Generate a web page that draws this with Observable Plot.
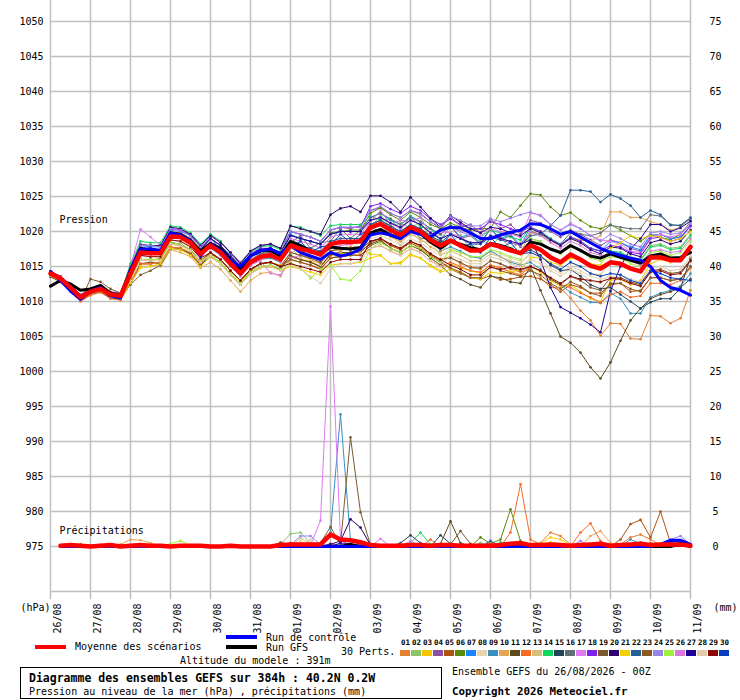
<!DOCTYPE html>
<html><head><meta charset="utf-8">
<script src="https://cdn.jsdelivr.net/npm/d3@7"></script>
<script src="https://cdn.jsdelivr.net/npm/@observablehq/plot@0.6"></script>
<style>
body{margin:0;background:#fff;font-family:"DejaVu Sans Mono",monospace;color:#000}
#wrap{position:relative;width:740px;height:700px;overflow:hidden;background:#fff}
#legend{position:absolute;left:0;top:632px;width:740px;height:68px;font-size:10px}
.a{position:absolute;white-space:nowrap;line-height:10px}
.sw{position:absolute}
</style></head><body>
<div id="wrap"><div id="chart"></div><div id="legend"></div></div>
<script>
// ---- data ----
const dayLabels = ["26/08","27/08","28/08","29/08","30/08","31/08","01/09","02/09","03/09","04/09","05/09","06/09","07/09","08/09","09/09","10/09","11/09"];
const pressTicks = [975,980,985,990,995,1000,1005,1010,1015,1020,1025,1030,1035,1040,1045,1050];
const pertColors = ["#e67e30","#8cc46c","#f2c500","#8a4fa3","#b0520e","#5a8a0a","#1a85ff","#e8d5b0","#3a8fc0","#e4a552","#5c4a1c","#f76a22","#d4c07a","#0fd660","#24435a","#606e78","#e07af5","#8020f0","#7d5a2e","#2d0070","#f0d000","#245f99","#8b5a22","#9a84e8","#a0f040","#d878d8","#1f0098","#e0cca8","#8a0606","#0a3cc0"];

const meanP = [1014.0,1013.3,1012.0,1010.6,1011.4,1011.8,1011.0,1010.8,
1014.0,1017.0,1016.9,1016.9,1019.3,1019.2,1018.4,1016.8,
1018.0,1017.0,1015.4,1014.0,1015.6,1016.4,1016.6,1016.0,
1018.0,1017.5,1017.2,1016.7,1018.2,1018.5,1018.5,1018.6,
1020.6,1021.1,1020.2,1019.5,1020.6,1020.0,1018.8,1018.0,
1018.7,1018.0,1017.3,1017.3,1018.2,1017.8,1017.3,1016.9,
1018.0,1017.4,1016.3,1015.6,1016.7,1016.0,1015.1,1014.7,
1015.6,1015.4,1014.7,1014.3,1016.3,1016.3,1015.9,1015.9,1017.8];
const controlP = [1014.3,1013.0,1011.5,1010.3,1011.5,1012.0,1010.8,1010.5,
1014.5,1017.5,1017.5,1017.3,1019.8,1019.5,1018.6,1016.5,
1018.2,1017.3,1015.8,1015.0,1016.5,1017.3,1017.5,1016.8,
1018.0,1017.0,1016.5,1016.0,1017.0,1016.5,1016.8,1017.5,
1019.5,1019.8,1019.5,1019.0,1020.0,1019.6,1019.2,1020.2,
1020.6,1020.5,1019.8,1019.0,1019.0,1019.5,1019.9,1020.2,
1021.1,1021.0,1020.4,1019.6,1020.0,1019.2,1018.4,1017.6,
1017.0,1016.6,1016.2,1015.9,1015.0,1013.0,1012.0,1011.6,1010.9];
const gfsP = [1012.2,1013.0,1012.5,1011.6,1011.8,1012.3,1011.2,1010.9,
1014.5,1017.6,1017.3,1017.0,1019.8,1019.6,1018.7,1017.2,
1018.3,1017.6,1016.0,1014.6,1016.5,1017.2,1017.3,1016.5,
1018.6,1018.0,1017.2,1016.9,1017.8,1017.6,1017.5,1017.7,
1019.8,1020.3,1019.5,1019.0,1020.3,1019.7,1018.5,1017.6,
1018.6,1018.2,1017.7,1017.4,1018.3,1018.0,1017.5,1016.9,
1018.5,1018.2,1017.5,1017.0,1018.0,1017.3,1016.5,1016.2,
1016.8,1016.3,1015.9,1015.5,1016.5,1016.8,1016.2,1016.3,1017.0];

const P01 = [1013.8,1013.2,1011.6,1010.2,1011.2,1011.6,1010.6,1010.4, 1013,1016,1015.8,1016.2,1018.2,1018,1017.4,1015.6, 1016.6,1015.6,1014,1012.4,1014.2,1015,1015.2,1014.6, 1017,1016.6,1016,1015.4,1017.2,1017.4,1017.8,1017.4, 1018.6,1019,1018,1017.4,1018.6,1017.8,1016.8,1016, 1016.4,1015.4,1015,1014.6,1015.8,1015.4,1014.6,1014.2, 1014.6,1013.4,1012,1011.9,1010.5,1008.7,1007.3,1005.1, 1006.9,1006.8,1004.7,1004.6,1008,1007.9,1006.9,1007.6,1011.6];
const P02 = [1014.2,1013.6,1012.2,1010.8,1011.7,1012.1,1011.3,1011.1, 1014.6,1017.6,1017.4,1017.3,1019.9,1019.6,1018.8,1017.2, 1018.4,1017.2,1015.8,1014.4,1015.9,1016.7,1016.9,1016.3, 1018.1,1017.4,1017.2,1016.6,1018.1,1018.4,1018.6,1018.8, 1020.4,1022.4,1020.6,1021.2,1020.5,1021.4,1019,1019.6, 1018.4,1019.5,1017.4,1018.8,1018,1019.2,1017.6,1018.4, 1019,1018.6,1017.4,1016.9,1018,1017.2,1016.4,1016.2, 1017.2,1017,1016.4,1016,1018,1018.2,1017.6,1017.8,1019.6];
const P03 = [1014,1013.4,1012,1010.4,1011.2,1011.6,1010.8,1010.2, 1012.6,1015.2,1015.4,1015.6,1017.8,1017.6,1017,1015.4, 1016.8,1016,1014.4,1012.8,1014.4,1015.4,1015.6,1015.2, 1016.4,1016,1015.8,1015,1016.6,1016.8,1017,1017.4, 1016.8,1016.6,1015.4,1015.6,1016.8,1016.2,1015.2,1014.4, 1015.4,1014.8,1014.4,1014,1015.2,1014.8,1014.2,1013.8, 1015,1014.2,1013,1012.2,1012.4,1011.4,1010.4,1010, 1013,1013.2,1012.4,1013,1015.4,1016,1015.6,1016.2,1017.6];
const P04 = [1014.3,1013.6,1012.4,1011,1011.8,1012.2,1011.4,1011.2, 1015,1018.2,1018,1018,1020.4,1020.2,1019.6,1018, 1019.5,1018.6,1017,1015.6,1017.2,1018,1018.2,1017.6, 1020,1019.6,1019.2,1018.6,1020.2,1020.6,1020.4,1020.8, 1023,1023.4,1022.6,1022,1023,1022.6,1021.4,1020.4, 1022.2,1020.6,1021,1019.8,1021.8,1020.4,1021,1019.6, 1021.6,1021.2,1020,1019.2,1020.2,1019.6,1018.8,1018, 1018.8,1018.4,1017.6,1017.2,1019.4,1019.6,1019,1019.2,1020.8];
const P05 = [1013.7,1013,1011.6,1010.2,1011,1011.4,1010.6,1010.4, 1013.2,1016,1016,1016,1018.4,1018.2,1017.4,1015.8, 1017,1016,1014.4,1013,1014.4,1015.4,1015.6,1015, 1016.4,1016,1015.6,1015,1016.6,1017,1017,1017, 1018.4,1019,1018,1017.4,1018.4,1017.6,1016.6,1015.8, 1014.6,1014,1013.4,1013.2,1013.7,1013.1,1013.2,1013.5, 1013.6,1013.2,1012.4,1011.4,1012.4,1012,1011.2,1011.2, 1012.4,1012.6,1011.4,1011.6,1013.4,1013.4,1013,1013.2,1015];
const P06 = [1014.1,1013.4,1012.1,1010.7,1011.5,1011.9,1011.1,1010.9, 1014.5,1017.6,1017.5,1017.4,1020,1019.8,1019,1017.5, 1019,1018,1016.5,1015,1016.6,1017.4,1017.6,1017, 1019.5,1019,1018.6,1018.2,1019.8,1020,1020.2,1020.2, 1022.6,1023.4,1022.4,1021.6,1022.8,1022,1021,1020.4, 1021.2,1020.6,1020.2,1020.4,1020.4,1022.8,1022,1023.7, 1025.4,1025.2,1023.5,1022.3,1022.7,1021.6,1020.7,1020.4, 1021,1020.2,1019.4,1018.6,1019.6,1019.2,1018.8,1019.6,1021.4];
const P07 = [1014.2,1013.5,1012.2,1010.8,1011.6,1012,1011.2,1011, 1015,1018,1017.8,1017.8,1020.2,1020,1019.4,1017.8, 1019.2,1017.2,1016.6,1014.2,1016.8,1016.6,1017.8,1016.2, 1019.6,1019,1018.6,1018.2,1019.6,1020,1020,1020, 1022,1022.6,1021.6,1021,1022.2,1021.4,1020.4,1019.6, 1020.8,1019.2,1019.6,1018.4,1020.4,1019,1019.6,1018, 1020.6,1020,1019,1018.2,1019.2,1018.6,1017.6,1017.2, 1018.6,1018.4,1017.8,1017.4,1019.4,1019.6,1019,1019.2,1020.8];
const P08 = [1013.8,1013.1,1011.8,1010.4,1011.2,1011.6,1010.8,1010.6, 1013.6,1016.4,1016.4,1016.4,1018.8,1018.6,1017.8,1016.2, 1017,1016,1014.4,1013,1014.6,1015.4,1015.6,1015, 1017,1017.6,1016,1016.8,1017,1018.6,1017.4,1018.6, 1019,1019.4,1018.8,1018,1019,1018.4,1017.4,1016.6, 1017.6,1017,1016.4,1016.2,1017.2,1016.8,1016.2,1015.8, 1016.6,1016,1014.8,1014,1015,1014.4,1013.6,1013.2, 1013.6,1013.4,1012.6,1012.2,1014.4,1014.6,1014,1014.2,1015.8];
const P09 = [1014,1013.3,1012,1010.6,1011.4,1011.8,1011,1010.8, 1014.4,1017.4,1017.4,1017.4,1019.8,1019.6,1018.8,1017.2, 1017.6,1016.6,1015,1013.6,1015.2,1016,1016.2,1015.6, 1018,1017.6,1017.2,1016.6,1018.2,1018.4,1018.6,1018.6, 1020.6,1020,1020.4,1018.6,1020.6,1019,1019,1017.2, 1017.8,1017.2,1016.4,1016.2,1017.2,1016.4,1015.6,1015.2, 1015.6,1014.6,1013.2,1012.4,1011.3,1010.6,1009.9,1009.8, 1011.2,1010.4,1008.3,1008.3,1010.6,1011.2,1011.6,1012.2,1014];
const P10 = [1013.8,1013.1,1011.7,1010.3,1011.2,1011.5,1010.7,1010.5, 1012.6,1015.4,1015.2,1015,1017.4,1017,1016.4,1014.8, 1015.6,1014.6,1013,1011.4,1013,1014,1014.2,1013.6, 1016,1015.6,1015.2,1014.8,1016.2,1016.6,1016.6,1016.8, 1019.6,1020,1019.2,1018.6,1019.6,1019,1017.8,1017, 1018.6,1018,1017.4,1017.2,1018.2,1018,1017.4,1017, 1019.8,1019.4,1018.6,1018,1019.2,1018.8,1018.6,1019.4, 1022.8,1022.8,1022,1022,1021.4,1021,1020.2,1020.6,1022];
const P11 = [1013.7,1013,1011.6,1010.1,1011,1011.4,1010.5,1010.3, 1012.5,1015.4,1015.6,1015.4,1017.6,1017.6,1016.8,1015.2, 1016.4,1015.4,1013.8,1012.4,1014,1014.8,1015,1014.6, 1016.6,1016,1015.6,1015,1016.8,1017,1017,1017.2, 1018.2,1018.8,1017.6,1017,1018,1017.4,1016.2,1015.2, 1013.8,1013.2,1012.4,1012,1013.6,1013.4,1012.8,1012.6, 1015,1011.6,1008.3,1005,1004.1,1002.7,1000.6,999, 1001.3,1004.4,1007.3,1009,1010.4,1011,1011.4,1012,1013.2];
const P12 = [1013.6,1012.9,1011.4,1010,1010.9,1011.3,1010.4,1010.2, 1012.6,1015.4,1015.4,1015.6,1017.8,1017.6,1017,1015.4, 1017,1016,1014.4,1013,1014.6,1015.4,1015.6,1015, 1016,1015.6,1015.2,1014.6,1016.2,1016.4,1016.6,1016.6, 1017.6,1018,1017.2,1016.6,1017.6,1017,1015.8,1015, 1015.6,1015,1014.4,1014.2,1015.2,1014.8,1014.2,1013.8, 1015,1014.4,1013.2,1012.4,1012,1011.2,1010.6,1009.8, 1011,1011.4,1010.6,1010.8,1012.6,1012.6,1012.4,1013,1014.8];
const P13 = [1014,1013.3,1012,1010.6,1011.4,1011.8,1011,1010.8, 1013.8,1016.6,1016.4,1016.4,1018.8,1018.6,1018,1016.4, 1018,1017,1015.4,1014,1015.6,1016.4,1016.6,1016, 1017.8,1016.2,1017,1015.2,1018,1017,1018.4,1017, 1020.4,1019.6,1019.8,1018,1020.2,1018.6,1018.4,1016.6, 1017.2,1016.6,1015.8,1015.8,1016.8,1016.4,1015.8,1015.4, 1017,1016.4,1015.4,1014.6,1015.6,1015,1014,1013.8, 1015.6,1015.4,1014.8,1014.4,1016.4,1016.4,1016,1016,1017.8];
const P14 = [1014.2,1013.6,1012.2,1010.8,1011.6,1012,1011.2,1011, 1015.4,1018.6,1018.4,1018.4,1020.8,1020.6,1019.8,1018.2, 1019.6,1018.6,1016.8,1015.4,1017,1017.8,1018,1017.4, 1020.8,1020.6,1020,1019.4,1020.8,1021,1021,1021, 1022.2,1021.6,1021.8,1020.2,1022.2,1020.6,1020.4,1018.6, 1020.8,1020,1019.4,1019.2,1020.2,1019.8,1019.2,1018.8, 1020.6,1020,1019,1018,1019.2,1018.6,1017.6,1017.2, 1017.2,1017,1016.2,1015.8,1017.8,1018,1017.4,1017.6,1019.4];
const P15 = [1014,1013.4,1012.1,1010.6,1011.5,1011.9,1011.1,1010.9, 1014.4,1017.6,1017.6,1017.4,1019.8,1019.6,1018.8,1017.4, 1019,1018,1016.4,1015,1016.6,1017.4,1017.6,1017, 1018,1017.6,1017.2,1016.6,1018.2,1018.6,1018.6,1018.6, 1021,1021.6,1020.8,1020,1021,1020.4,1019.4,1018.6, 1018.6,1018,1017.2,1017.2,1018.2,1017.8,1017.4,1016.8, 1017.4,1016.6,1015.2,1014.4,1014.6,1013.6,1012.4,1011.8, 1012,1011,1010,1009,1009.9,1010.4,1010.4,1011.9,1016.3];
const P16 = [1014,1013.3,1012,1010.6,1011.4,1011.8,1011,1010.8, 1014.4,1017.4,1017.4,1017.2,1019.8,1019.6,1018.8,1017.2, 1018.4,1017.4,1016,1014.4,1016,1016.8,1017,1016.4, 1018.4,1019.4,1017.6,1018.4,1018.6,1020.4,1019,1020.2, 1022,1022.6,1021.8,1021,1022,1021.4,1020.4,1019.6, 1020.8,1019,1019.4,1018.2,1020.4,1018.8,1019.4,1017.8, 1020,1019.6,1018.8,1018.2,1019.8,1019.6,1019.4,1019.8, 1020.9,1020.6,1020.4,1020.4,1022.4,1022.2,1021,1020.8,1021.8];
const P17 = [1014.2,1013.5,1012.2,1010.8,1011.6,1012,1011.2,1011, 1015,1020.3,1019.2,1018,1020.4,1019.8,1019,1018, 1018.2,1017,1015.2,1014.2,1015.2,1015.8,1014,1013.8, 1016.2,1016.6,1016.4,1016,1017.6,1018,1018.2,1018.4, 1021.6,1022,1021.2,1020.4,1021.6,1021,1019.8,1019, 1020.6,1020,1019.4,1019.4,1020.4,1020,1019.6,1019.2, 1022.6,1022.4,1021,1020.2,1021.2,1020.4,1019.4,1018.8, 1018.6,1018.2,1017.2,1017,1019.2,1019.6,1019.2,1019.6,1021];
const P18 = [1014.3,1013.6,1012.3,1010.9,1011.7,1012.1,1011.3,1011.1, 1014.8,1018,1018,1018,1020.4,1020.2,1019.4,1017.8, 1019,1018,1016.6,1015.2,1016.8,1017.6,1017.6,1017, 1020,1019.6,1019.2,1018.6,1020.2,1020.6,1020.6,1020.6, 1023.6,1024,1023.2,1022.6,1023.6,1023,1021.8,1021, 1021.8,1021,1020.4,1020.4,1021.4,1021,1020.4,1020, 1020.6,1020,1018.8,1018,1019.2,1018.6,1017.6,1017.2, 1018,1017.8,1017,1016.8,1019,1019.2,1018.6,1019,1020.8];
const P19 = [1013.5,1012.8,1011.5,1010.2,1013.2,1012.8,1011.8,1011.2, 1012.4,1013.8,1014.4,1015.2,1017.6,1017.4,1016.8,1015.2, 1016.8,1016,1014.4,1013,1014.6,1015.4,1015.6,1015, 1017,1016.6,1016.2,1015.6,1017.2,1017.6,1017.4,1017.6, 1018.6,1019,1018.2,1017.6,1018.6,1018,1016.8,1016, 1016.2,1015.6,1014.8,1014.8,1015.8,1015.4,1014.8,1014.4, 1015,1014.4,1013.2,1012.4,1013.6,1013,1012,1011.6, 1013.4,1013.4,1012.8,1012.4,1014.4,1014.6,1014,1014.2,1016];
const P20 = [1014,1013.4,1012.1,1010.8,1011.6,1012,1011.2,1011, 1015,1018,1018,1018,1020.6,1020.4,1019.6,1018, 1019.4,1018.4,1017,1015.4,1017.2,1018,1018.2,1017.6, 1020.8,1020.4,1020,1019.6,1022.4,1023.3,1023.6,1022.8, 1025.1,1025.1,1024.2,1022.8,1024.9,1023.5,1021.9,1020.6, 1022.3,1021.3,1020.4,1019.8,1020.6,1020.4,1019.8,1019.4, 1020.4,1019.8,1018.8,1018,1019,1018.4,1017.4,1016.8, 1017.8,1017.6,1016.8,1016.4,1018.4,1018.8,1018.2,1018.6,1020.2];
const P21 = [1013.7,1013,1011.6,1010.2,1011.1,1011.5,1010.7,1010.4, 1012.6,1014.8,1015,1015.4,1017.6,1017.4,1016.6,1015, 1016.4,1015.4,1013.8,1012.4,1014,1014.8,1015,1014.4, 1015,1014.6,1014.2,1013.8,1015.2,1015.4,1015.4,1015.6, 1016.2,1016.6,1015.4,1015.4,1016.6,1016.2,1015,1014.2, 1014.6,1014.2,1013.4,1013.2,1014.2,1014,1014.2,1014.6, 1016.2,1016.4,1015.6,1015.2,1016.2,1016,1015.4,1015.2, 1017.6,1018.4,1019.4,1019,1019.4,1019.2,1018.6,1019,1020];
const P22 = [1014,1013.3,1012,1010.7,1011.5,1011.8,1011,1010.8, 1014.2,1017.2,1017.2,1017.2,1019.6,1019.4,1018.6,1017, 1018,1017,1015.4,1014,1015.6,1016.4,1016.6,1016, 1018.4,1018,1017.6,1017.2,1018.6,1019,1019,1019, 1021,1021.6,1020.6,1020,1021,1020.4,1019.2,1018.4, 1019.6,1019,1018.2,1018.2,1019.2,1018.8,1018.4,1018, 1019.4,1019.6,1020.8,1022.3,1025.9,1025.9,1025.7,1024.2, 1025.3,1024.7,1023.7,1022,1023,1022.4,1020.9,1020.9,1022];
const P23 = [1013.7,1013,1011.7,1010.3,1011.1,1011.5,1010.7,1010.5, 1013,1016,1016,1016,1018.4,1018.2,1017.4,1015.8, 1017,1016,1014.4,1013,1014.6,1015.4,1015.6,1015, 1016,1015.6,1015.2,1014.6,1016.2,1016.4,1016.6,1016.6, 1018,1018.6,1017.6,1017,1018,1017.4,1016.4,1015.6, 1014.8,1014.2,1013.4,1013.4,1015,1014.4,1014,1013.6, 1014.4,1013.8,1012.6,1011.8,1012.8,1012.2,1011.2,1010.8, 1012.6,1012.6,1011.8,1011.4,1013.4,1013.4,1013,1013.2,1015];
const P24 = [1014.2,1013.5,1012.2,1010.8,1011.6,1012,1011.2,1011, 1015,1018,1018,1017.8,1020.4,1020.2,1019.4,1017.8, 1019,1018,1016.4,1015,1016.6,1017.4,1017.6,1017, 1020,1019.6,1019.2,1018.6,1020.2,1020.6,1020.6,1020.6, 1023,1023.6,1022.6,1022,1023,1022.4,1021.4,1020.6, 1022.2,1021.6,1020.8,1020.8,1021.8,1021.4,1021.9,1022.4, 1022.8,1022.2,1021,1020.2,1021,1020.4,1019.4,1018.6, 1019.6,1019,1018.2,1017.8,1019.8,1020,1019.6,1019.8,1021.2];
const P25 = [1014,1013.3,1012,1010.6,1011.4,1011.8,1011,1010.8, 1013,1016,1016,1016,1018.4,1018.2,1017.4,1015.8, 1016.6,1015.6,1014,1012.6,1014.2,1015,1015.2,1014.6, 1015.6,1014.8,1013.3,1014.6,1015.2,1013.2,1013,1014.4, 1017.6,1018.4,1017.6,1017,1018,1017.6,1016.4,1015.6, 1017.4,1017,1016.4,1016.4,1017.4,1017,1016.4,1016, 1019,1018.4,1017.4,1016.8,1017.8,1017.2,1016.2,1015.8, 1016.4,1016.2,1015.4,1015,1017,1017.2,1016.6,1017,1018.6];
const P26 = [1014.2,1013.5,1012.1,1010.7,1011.5,1011.9,1011.1,1010.9, 1014.6,1017.6,1017.4,1017.4,1019.8,1019.6,1018.8,1017.2, 1018.6,1016.6,1016,1013.6,1016.2,1016,1017.2,1015.6, 1019,1018.6,1018.2,1017.6,1019.2,1019.6,1019.6,1019.6, 1021.4,1023,1021,1021.6,1021.4,1022,1019.6,1020, 1019.8,1019.2,1018.4,1018.4,1019.4,1019,1018.4,1018, 1020,1019.4,1018.4,1017.6,1018.6,1018,1017,1016.6, 1016.6,1016.4,1015.8,1015.2,1017.2,1017.4,1017,1017.2,1019];
const P27 = [1014,1013.3,1011.8,1010.4,1011.3,1011.6,1010.9,1010.6, 1014.4,1017.4,1017.2,1017.4,1019.8,1019.6,1018.8,1017.4, 1019,1018,1016.4,1015,1016.6,1017.4,1017.6,1017, 1019.4,1019,1018.6,1018.2,1019.6,1020,1020,1020, 1021.6,1022,1021.2,1020.6,1021.6,1021,1019.8,1019, 1019.6,1019,1018.4,1018.4,1019.4,1019,1018.6,1018.2, 1018.8,1016,1012,1009.2,1008.4,1007.6,1006.7,1005.6, 1011.5,1015,1017.5,1019,1021,1021,1020,1020.5,1021.5];
const P28 = [1013.7,1013,1011.7,1010.3,1011.1,1011.5,1010.7,1010.5, 1013,1016,1015.8,1015.8,1018.2,1018,1017.2,1015.6, 1016.6,1015.4,1013.8,1012.4,1014,1014.8,1015,1014.4, 1015.4,1014.6,1013.6,1012.6,1014.6,1015.4,1015.4,1015.8, 1017.6,1018,1017.2,1016.6,1017.6,1017,1015.8,1015, 1016.6,1016,1015.4,1015.4,1016.4,1016,1015.4,1015, 1016,1015.4,1014.4,1013.6,1014.6,1014,1013,1012.6, 1014,1013.8,1013.2,1012.8,1014.8,1015,1014.4,1014.6,1016.4];
const P29 = [1013.8,1013.1,1011.8,1010.4,1011.2,1011.6,1010.8,1010.6, 1013.6,1016.6,1016.4,1016.4,1018.8,1018.6,1017.8,1016.2, 1017,1016,1014.4,1013,1014.6,1015.4,1015.6,1015, 1015.4,1015,1014.6,1014.2,1015.6,1016,1016,1016, 1018.6,1019,1018.2,1017.6,1018.6,1018,1016.8,1016, 1015.2,1014.6,1013.8,1013.8,1014.9,1014.6,1014.9,1014.6, 1015,1014.4,1013.4,1012.6,1013.6,1013.2,1013,1012.8, 1013.3,1013.2,1012.6,1012.2,1014.2,1014.4,1013.8,1014,1015.8];
const P30 = [1014,1013.2,1011.9,1010.5,1011.4,1011.7,1010.9,1010.7, 1014.2,1017.2,1017.2,1017.2,1019.6,1019.4,1018.6,1017, 1018,1017,1015.4,1014,1015.6,1016.4,1016.6,1016, 1017.8,1018.6,1017,1017.8,1018,1019.6,1018.4,1019.6, 1020.4,1021,1020,1019.4,1020.4,1019.8,1018.6,1017.8, 1019.6,1017.8,1018.2,1017,1019.2,1017.6,1018.4,1016.8, 1017,1016.4,1015.4,1014.6,1015.6,1015,1014,1013.6, 1014,1013.8,1013,1012.6,1014.4,1014,1013.4,1013.2,1013];

// precipitation (mm), steps 1..64
const meanR = [0.1,0.2,0.1,0,0.1,0.2,0,0.1, 0.2,0.1,0.1,0,0.1,0.1,0.1,0, 0,0.1,0,0,0,0,0.2,0.3, 0.3,0.3,0.3,1.7,1.0,0.9,0.6,0.2, 0.1,0.1,0.1,0.2,0.2,0.1,0.2,0.2, 0.1,0.1,0.1,0.1,0.2,0.4,0.5,0.2, 0.2,0.3,0.2,0.1,0.2,0.3,0.4,0.1, 0.2,0.3,0.4,0.2,0.3,0.3,0.3,0.1];
const controlR = [0,0,0,0,0,0,0,0, 0,0,0,0,0,0,0,0, 0,0,0,0,0,0,0,0, 0,0,0,0,0,0,0,0, 0,0,0,0,0,0,0,0, 0,0,0,0,0,0,0,0, 0,0,0,0,0,0,0,0, 0,0,0,0,0.3,0.9,0.9,0.3];
const gfsR = [0,0,0,0,0,0,0,0, 0,0,0,0,0,0,0,0, 0,0,0,0,0,0,0,0, 0,0,0,0,0,0.3,0,0, 0,0,0,0,0,0,0,0, 0,0,0,0,0,0,0,0, 0,0,0,0,0,0,0,0, 0,0,0,0,0,0,0.4,0];
const Z8 = [0,0,0,0,0,0,0,0];
const R01 = [0,0,0,0,0.2,0,0,0, ...Z8, 0,0,0,0,0,0,0,0.3, 0.2,0,0,0.4,0.2,0,0,0, ...Z8, 0,0,0,0,0,0,0.2,0.3, 0.5,2.0,1.5,0.3,0,0,0.2,0, 0.3,1.3,1.7,1.0,0.2,0,0,0];
const R02 = [...Z8, ...Z8, 0,0,0,0,0,0,0.3,1.8, 2.0,0.5,0.2,0.3,0,0,0,0, 0,0,0,0.3,0,0,0,0, ...Z8, ...Z8, 0,0,0,0.4,0,0,0,0];
const R03 = [...Z8, ...Z8, ...Z8, 0,0,0,0,0.3,0,0,0, ...Z8, ...Z8, 0,0.6,0.4,0,0,0,0,0, ...Z8];
const R04 = [...Z8, ...Z8, ...Z8, 0,0,0,0.4,0,0,0.3,0, ...Z8, ...Z8, ...Z8, 0,0,0,0,0,0,0.5,0];
const R05 = [0,0,0.3,0,0,0,0,0, ...Z8, 0,0,0,0,0,0,0,0.5, 0.4,0,0,0,0,0,0,0, ...Z8, ...Z8, ...Z8, 1.0,3.2,3.8,1.3,5.0,0.5,0,0];
const R06 = [...Z8, ...Z8, ...Z8, ...Z8, ...Z8, 0,0,1.3,0.4,1.0,5.3,0.8,0, ...Z8, ...Z8];
const R07 = [...Z8, ...Z8, ...Z8, 0,0,0,0,0.3,0,0,0, ...Z8, ...Z8, ...Z8, 0,0,0,0,0,0,0.5,0];
const R08 = [...Z8, ...Z8, ...Z8, 0.8,0,0,0,0.2,0,0,0, ...Z8, ...Z8, ...Z8, ...Z8];
const R09 = [...Z8, ...Z8, ...Z8, 0,0,0.2,2.0,18.9,0.8,0.3,0, ...Z8, 0,0,0.5,0,0,0,0,0, ...Z8, 0,1.0,0.4,0,0,0,0,0];
const R10 = [0,0,0,0,0,0,0.3,1.0, 0.9,0.5,0,0,0,0,0,0, ...Z8, ...Z8, ...Z8, ...Z8, 0,0,0,0,0,1.5,2.2,0.5, ...Z8];
const R11 = [...Z8, ...Z8, ...Z8, ...Z8, 0,0,0,0,0,0,0.4,3.6, 0.5,0,0,0,0,0,0,0, ...Z8, ...Z8];
const R12 = [...Z8, ...Z8, ...Z8, ...Z8, 0,0,0,0,0,1.0,0,0, 0,0,0,0.6,0,2.0,8.9,1.0, 0.3,0,0,0,2.0,3.3,0.8,0, 0,0,0,0.5,0,0,0,0];
const R13 = [...Z8, ...Z8, ...Z8, 1.2,0.4,0,0,0,0,0,0, ...Z8, ...Z8, ...Z8, ...Z8];
const R14 = [...Z8, ...Z8, ...Z8, ...Z8, 0,0,0,0.5,2.0,0.3,0,0, 0,0,0,0,0.6,0,0,0, ...Z8, ...Z8];
const R15 = [...Z8, ...Z8, ...Z8, ...Z8, 0,0,0.5,1.6,0.5,0,1.6,0.4, ...Z8, ...Z8, 0,0,0.5,0,0,0,0,0];
const R16 = [...Z8, ...Z8, ...Z8, ...Z8, ...Z8, ...Z8, ...Z8, 0,0,0,0.4,0,0,0,0];
const R17 = [...Z8, ...Z8, ...Z8, 0,0.2,3.7,34.3,1.0,0,0,0, 1.1,0,0,0.8,0,0,0,0, ...Z8, ...Z8, ...Z8];
const R18 = [...Z8, ...Z8, ...Z8, ...Z8, 0,0,0,0,0.4,0,0,0, ...Z8, ...Z8, ...Z8];
const R19 = [...Z8, ...Z8, ...Z8, 0,0,0.5,2.8,0.3,15.6,4.9,0.2, 0,0,0,0,0,0,0,0.3, 2.2,0.4,0,0,0,0,0,0, ...Z8, ...Z8];
const R20 = [...Z8, ...Z8, ...Z8, 0,0,0,0.3,0.8,3.9,2.7,0.2, ...Z8, ...Z8, ...Z8, ...Z8];
const R21 = [...Z8, ...Z8, ...Z8, ...Z8, ...Z8, ...Z8, 0.4,1.3,1.0,0.2,0,0,0,0, ...Z8];
const R22 = [...Z8, ...Z8, ...Z8, ...Z8, ...Z8, 0,0,0,0.8,0,0,0,0, ...Z8, 0,0,0,0,0,0.6,0.8,0];
const R23 = [...Z8, ...Z8, 0,0,0,0,0,0,0.6,0.2, ...Z8, ...Z8, ...Z8, ...Z8, 0,0,0.6,0,0,0,0,0];
const R24 = [...Z8, ...Z8, 0,0,0,0,0,0,0,0.2, 1.5,1.5,0.3,0,0,0,0,0, ...Z8, ...Z8, 0,0,0,0,0.8,0,0,0, 0,0,0,0,0,1.0,1.5,0.3];
const R25 = [...Z8, 0,0,0,0.4,0.8,0.2,0,0, ...Z8, ...Z8, ...Z8, 0,0,0.4,0,0,0,0,0, ...Z8, ...Z8];
const R26 = [...Z8, ...Z8, ...Z8, ...Z8, 0,0,0.3,0,0,0,0,0, ...Z8, 0,0,0,0,0.3,0,0,0, ...Z8];
const R27 = [...Z8, ...Z8, ...Z8, 0,0,0,0,0.5,0.4,0,0, ...Z8, ...Z8, ...Z8, 0,0,0,0,0,0.7,0.6,0];
const R28 = [...Z8, ...Z8, ...Z8, 0,1.0,0,0,0,0,0,0, ...Z8, ...Z8, ...Z8, ...Z8];
const R29 = [0,0,0,0,0.2,0,0,0, ...Z8, ...Z8, ...Z8, ...Z8, ...Z8, ...Z8, ...Z8];
const R30 = [...Z8, ...Z8, ...Z8, ...Z8, ...Z8, ...Z8, ...Z8, 0,0,0,0,0,0.5,0.4,0];

// ---- build ----
const pertsP = [P01,P02,P03,P04,P05,P06,P07,P08,P09,P10,P11,P12,P13,P14,P15,P16,P17,P18,P19,P20,P21,P22,P23,P24,P25,P26,P27,P28,P29,P30];
const pertsR = [R01,R02,R03,R04,R05,R06,R07,R08,R09,R10,R11,R12,R13,R14,R15,R16,R17,R18,R19,R20,R21,R22,R23,R24,R25,R26,R27,R28,R29,R30];
const BASE = 975; // 0 mm sits on 975 hPa (right axis)
const pRows = pertsP.flatMap((arr,k)=>arr.map((v,i)=>({i, v, k})));
const rRows = pertsR.flatMap((arr,k)=>arr.map((mm,j)=>({i:j+1, v:BASE+mm, k})));
const series = (arr)=>arr.map((v,i)=>({i, v}));
const seriesR = (arr)=>arr.map((mm,j)=>({i:j+1, v:BASE+mm}));
const dayIdx = dayLabels.map((d,k)=>k*4);
const col = d=>pertColors[d.k];
const grid = "#c0c0c0";
const yBottom = 968.57, yTop = 1053;

const chart = Plot.plot({
  width:740, height:632, marginTop:0, marginBottom:41, marginLeft:50, marginRight:50,
  x:{domain:[0,64], axis:null},
  y:{domain:[yBottom,yTop], axis:null},
  style:{fontFamily:"DejaVu Sans Mono, monospace", fontSize:"10px", background:"#fff", overflow:"visible", color:"#000"},
  marks:[
    Plot.ruleY(pressTicks, {stroke:grid, strokeWidth:1.5, strokeOpacity:1}),
    Plot.ruleX(dayIdx, {y1:yTop, y2:967.4, stroke:grid, strokeWidth:1.5, strokeOpacity:1}),
    Plot.ruleY([yBottom], {stroke:grid, strokeWidth:1.5, strokeOpacity:1}),
    Plot.text(pressTicks, {x:0, y:d=>d, text:d=>String(d), textAnchor:"end", dx:-7, fill:"#000"}),
    Plot.text(pressTicks, {x:64, y:d=>d, text:d=>String(d-BASE), textAnchor:"middle", dx:25, fill:"#000"}),
    Plot.text(dayIdx, {x:d=>d, y:966.86, text:(d,k)=>dayLabels[k], rotate:-90, textAnchor:"end", dx:7, fill:"#000"}),
    Plot.text(["(hPa)"], {x:-3, y:966.3, text:d=>d, textAnchor:"start", fill:"#000"}),
    Plot.text(["(mm)"], {x:66.3, y:966.3, text:d=>d, textAnchor:"start", fill:"#000"}),
    Plot.text(["Pression"], {x:0.9, y:1021.6, text:d=>d, textAnchor:"start", fill:"#000"}),
    Plot.text(["Précipitations"], {x:0.9, y:977.2, text:d=>d, textAnchor:"start", fill:"#000"}),
    // perturbations
    Plot.line(pRows, {x:"i", y:"v", z:"k", stroke:col, strokeWidth:1, curve:"linear"}),
    Plot.dot(pRows, {x:"i", y:"v", fill:col, r:1.3, stroke:null}),
    Plot.line(rRows, {x:"i", y:"v", z:"k", stroke:col, strokeWidth:1}),
    Plot.dot(rRows.filter(d=>d.v>BASE), {x:"i", y:"v", fill:col, r:1.3, stroke:null}),
    // GFS
    Plot.line(series(gfsP), {x:"i", y:"v", stroke:"#000", strokeWidth:3}),
    Plot.line(seriesR(gfsR), {x:"i", y:"v", stroke:"#000", strokeWidth:3}),
    // control
    Plot.line(series(controlP), {x:"i", y:"v", stroke:"#0000ff", strokeWidth:3}),
    Plot.line(seriesR(controlR), {x:"i", y:"v", stroke:"#0000ff", strokeWidth:3}),
    // mean
    Plot.line(series(meanP), {x:"i", y:"v", stroke:"#ff0000", strokeWidth:4.5}),
    Plot.line(seriesR(meanR), {x:"i", y:"v", stroke:"#ff0000", strokeWidth:4.5})
  ]
});
document.getElementById("chart").appendChild(chart);

// ---- legend ----
const L = document.getElementById("legend");
function add(html, left, top, style){const e=document.createElement("div");e.className="a";e.innerHTML=html;e.style.left=left+"px";e.style.top=top+"px";if(style)Object.assign(e.style,style);L.appendChild(e);return e;}
function sw(left, top, w, h, c){const e=document.createElement("div");e.className="sw";Object.assign(e.style,{left:left+"px",top:top+"px",width:w+"px",height:h+"px",background:c});L.appendChild(e);}
sw(35,13,31,4,"#ff0000"); add("Moyenne des scénarios",75,10);
sw(226,3,31,4,"#0000ff"); add("Run de contrôle",266,1);
sw(226,13,31,4,"#000000"); add("Run GFS",266,11);
add("Altitude du modele : 391m",180,24);
add("30 Perts.",341,15);
pertColors.forEach((c,k)=>{
  add(String(k+1).padStart(2,"0"), 400+11*k, 7, {fontSize:"7.5px", fontWeight:"bold", width:"11px", textAlign:"center", lineHeight:"8px"});
  sw(400+11*k, 18, 10, 6, c);
});
const box=document.createElement("div");Object.assign(box.style,{position:"absolute",left:"20px",top:"35px",width:"420px",height:"30px",border:"1px solid #000"});L.appendChild(box);
add("Diagramme des ensembles GEFS sur 384h : 40.2N 0.2W",29,40,{fontSize:"11.5px",fontWeight:"bold",lineHeight:"12px"});
add("Pression au niveau de la mer (hPa) , précipitations (mm)",29,55);
add("Ensemble GEFS du 26/08/2026 - 00Z",452,35);
add("Copyright 2026 Meteociel.fr",452,54,{fontSize:"10.8px",fontWeight:"bold",lineHeight:"12px"});
</script>
</body></html>
